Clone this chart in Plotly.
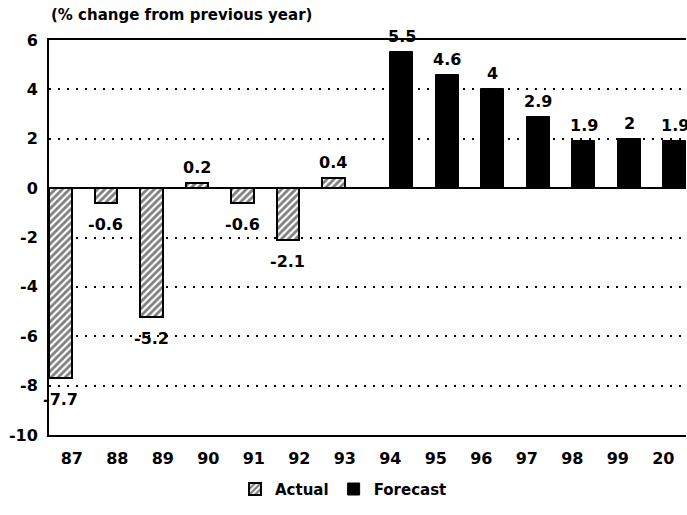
import plotly.graph_objects as go

years = ["87", "88", "89", "90", "91", "92", "93", "94", "95", "96", "97", "98", "99", "20"]
actual = [-7.7, -0.6, -5.2, 0.2, -0.6, -2.1, 0.4, None, None, None, None, None, None, None]
forecast = [None, None, None, None, None, None, None, 5.5, 4.6, 4, 2.9, 1.9, 2, 1.9]
ytick_vals = [6, 4, 2, 0, -2, -4, -6, -8, -10]

FONT = "DejaVu Sans"

fig = go.Figure()
fig.add_trace(go.Bar(
    x=years, y=actual, name="Actual",
    marker=dict(color="white", line=dict(color="black", width=2),
                pattern=dict(shape="/", fgcolor="black", bgcolor="white", size=5, solidity=0.55)),
))
fig.add_trace(go.Bar(
    x=years, y=forecast, name="Forecast",
    marker=dict(color="black", line=dict(color="black", width=1)),
))

# value labels, built from the data arrays
for series, off in ((actual, -0.25), (forecast, 0.25)):
    for i, v in enumerate(series):
        if v is None:
            continue
        fig.add_annotation(
            x=i + off, y=v, xref="x", yref="y", text=f"{v:g}", showarrow=False,
            yanchor="bottom" if v >= 0 else "top",
            yshift=4 if v >= 0 else -10,
            font=dict(family=FONT, size=16, color="black", weight="bold"),
        )

fig.update_layout(
    width=687, height=515,
    margin=dict(l=49, r=1, t=40, b=80),
    paper_bgcolor="white", plot_bgcolor="white",
    barmode="group", bargap=0, bargroupgap=0,
    font=dict(family=FONT, size=16, color="black", weight="bold"),
    showlegend=True,
    legend=dict(orientation="h", xref="container", yref="container",
                x=0.5, xanchor="center", y=0.05, yanchor="middle",
                font=dict(family=FONT, size=15, color="black", weight="bold"),
                itemwidth=30, traceorder="normal"),
)
fig.update_xaxes(
    type="category", range=[-0.5, 13.5],
    showline=True, linecolor="black", linewidth=2, mirror=True,
    showgrid=False, ticks="", ticklabelstandoff=8,
    tickfont=dict(family=FONT, size=16, color="black", weight="bold"),
)
fig.update_yaxes(
    range=[-10, 6], tickvals=ytick_vals, ticktext=[str(v) for v in ytick_vals],
    showline=True, linecolor="black", linewidth=2, mirror=False,
    showgrid=True, gridcolor="black", gridwidth=2, griddash="2px,7px",
    zeroline=True, zerolinecolor="black", zerolinewidth=2,
    ticks="", ticklabelstandoff=6,
    tickfont=dict(family=FONT, size=16, color="black", weight="bold"),
)
fig.add_annotation(
    text="(% change from previous year)", xref="paper", yref="paper",
    x=0, y=1.063, xanchor="left", yanchor="middle", showarrow=False,
    font=dict(family=FONT, size=15, color="black", weight="bold"),
)
fig.write_html("out.html")
